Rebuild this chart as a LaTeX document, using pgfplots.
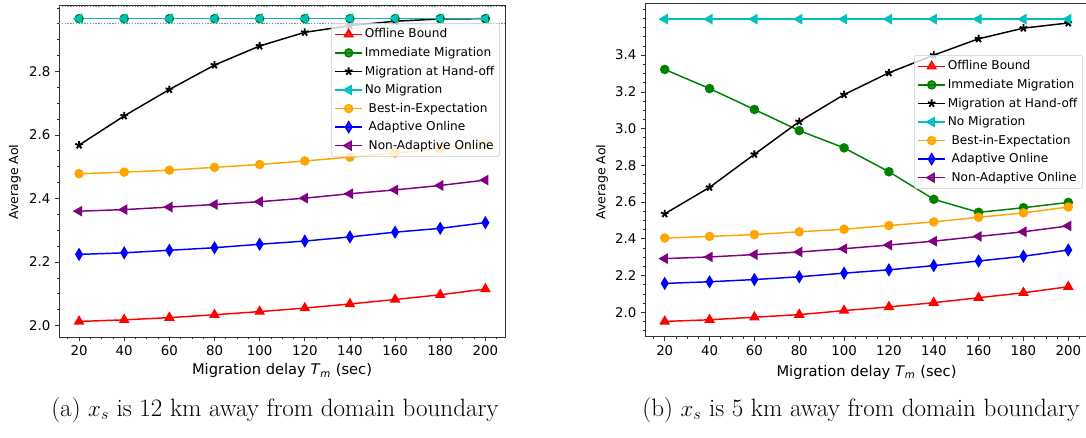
\documentclass[border=0pt]{standalone}
\usepackage{pgfplots}
\pgfplotsset{compat=1.18}
\usepackage{fontspec}
\newfontfamily\dv{DejaVu Sans}
\definecolor{mcyan}{RGB}{0,191,191}
\definecolor{mgreen}{RGB}{0,128,0}
\definecolor{morange}{RGB}{255,165,0}
\definecolor{mpurple}{RGB}{128,0,128}

\pgfplotstableread{
x off imm hand nomig best adap nonad
20  2.013 2.966 2.568 2.966 2.478 2.224 2.360
40  2.018 2.966 2.660 2.966 2.483 2.229 2.365
60  2.025 2.966 2.743 2.966 2.489 2.237 2.373
80  2.034 2.966 2.820 2.966 2.498 2.245 2.381
100 2.044 2.966 2.880 2.966 2.507 2.256 2.390
120 2.055 2.966 2.923 2.966 2.518 2.266 2.401
140 2.068 2.966 2.944 2.966 2.530 2.279 2.415
160 2.082 2.966 2.958 2.966 2.543 2.294 2.427
180 2.097 2.966 2.965 2.966 2.557 2.306 2.441
200 2.115 2.966 2.966 2.966 2.574 2.324 2.458
}\tablea

\pgfplotstableread{
x off imm hand nomig best adap nonad
20  1.950 3.322 2.536 3.596 2.404 2.157 2.292
40  1.959 3.218 2.680 3.596 2.413 2.166 2.301
60  1.973 3.104 2.860 3.596 2.423 2.178 2.314
80  1.987 2.989 3.038 3.596 2.438 2.193 2.328
100 2.009 2.895 3.185 3.596 2.452 2.213 2.346
120 2.029 2.765 3.304 3.596 2.472 2.231 2.366
140 2.052 2.615 3.400 3.596 2.492 2.254 2.387
160 2.079 2.544 3.489 3.596 2.517 2.279 2.413
180 2.106 2.569 3.547 3.596 2.541 2.305 2.438
200 2.139 2.598 3.575 3.596 2.573 2.339 2.470
}\tableb

\pgfplotsset{
  myaxis/.style={
    scale only axis,
    axis line style={black!80, line width=0.7pt},
    tick align=outside,
    xtick pos=bottom, ytick pos=left,
    major tick length=3pt, minor tick length=1.8pt,
    every tick/.style={black!80, line width=0.5pt},
    xtick={20,40,...,200},
    minor xtick={10,15,...,205},
    /pgf/number format/assume math mode=true,
    ticklabel style={font=\dv\fontsize{10}{12}\selectfont},
    yticklabel style={/pgf/number format/.cd, fixed, fixed zerofill, precision=1},
    xlabel={Migration delay \textit{T}\textsubscript{\textit{m}} (sec)},
    xlabel style={font=\dv\fontsize{11}{13}\selectfont, anchor=center},
    ylabel={Average AoI},
    ylabel style={font=\dv\fontsize{9.4}{11}\selectfont, anchor=center},
    legend cell align=left,
    legend style={font=\dv\fontsize{9.1}{11}\selectfont, draw=black!20, fill=white, fill opacity=0.8, text opacity=1,
      rounded corners=2pt, row sep=2.3pt, inner sep=2.5pt, anchor=north east,
      nodes={inner sep=1.6pt}},
    legend image code/.code={\draw[mark repeat=2,mark phase=2] plot coordinates {(0cm,0cm) (0.35cm,0cm) (0.7cm,0cm)};},
    every axis plot/.append style={line width=1.1pt},
  },
  soff/.style={red, mark=triangle*, mark size=3.6pt, mark options={solid}},
  simm/.style={mgreen, mark=*, mark size=3pt},
  shand/.style={black, mark=star, mark size=3pt, mark options={line width=1.4pt}},
  snom/.style={mcyan, mark=triangle*, mark size=3.6pt, mark options={rotate=90}},
  sbest/.style={morange, mark=*, mark size=3pt},
  sadap/.style={blue, mark=diamond*, mark size=4pt, mark options={xscale=0.8}},
  snon/.style={mpurple, mark=triangle*, mark size=3.6pt, mark options={rotate=90}},
}

\begin{document}
\begin{tikzpicture}
\useasboundingbox (0,0) rectangle (814.5pt,-327.75pt);

\begin{axis}[myaxis,
  at={(44.25pt,-252.75pt)}, anchor=south west,
  width=334.5pt, height=249pt,
  xmin=11.1, xmax=208.7, ymin=1.964, ymax=3.009,
  ytick={2.0,2.2,...,2.81},
  minor ytick={1.95,2.0,...,3.01},
  xlabel style={at={(axis description cs:0.5,-0.102)}},
  ylabel style={at={(axis description cs:-0.099,0.467)}},
  legend style={at={(0.9888,0.9458)}},
]
\addplot[densely dotted, black!45, line width=0.4pt, forget plot] coordinates {(11.1,3.004) (208.7,3.004)};
\addplot[densely dotted, black!45, line width=0.4pt, forget plot] coordinates {(11.1,2.951) (208.7,2.951)};
\addplot[soff] table[x=x,y=off]{\tablea};
\addlegendentry{Offline Bound}
\addplot[simm] table[x=x,y=imm]{\tablea};
\addlegendentry{Immediate Migration}
\addplot[shand] table[x=x,y=hand]{\tablea};
\addlegendentry{Migration at Hand-off}
\addplot[snom] table[x=x,y=nomig]{\tablea};
\addlegendentry{No Migration}
\addplot[sbest] table[x=x,y=best]{\tablea};
\addlegendentry{\ Best-in-Expectation}
\addplot[sadap] table[x=x,y=adap]{\tablea};
\addlegendentry{\ Adaptive Online}
\addplot[snon] table[x=x,y=nonad]{\tablea};
\addlegendentry{\ Non-Adaptive Online}
\end{axis}

\begin{axis}[myaxis,
  at={(483.75pt,-252.5pt)}, anchor=south west,
  width=332.25pt, height=250pt,
  xmin=11.2, xmax=208.8, ymin=1.867, ymax=3.682,
  ytick={2.0,2.2,...,3.41},
  minor ytick={1.9,1.95,...,3.68},
  ylabel style={at={(axis description cs:-0.097,0.464)}},
  xlabel style={at={(axis description cs:0.5,-0.106)}},
  legend style={at={(0.9887,0.845)}},
]
\addplot[soff] table[x=x,y=off]{\tableb};
\addlegendentry{Offline Bound}
\addplot[simm] table[x=x,y=imm]{\tableb};
\addlegendentry{Immediate Migration}
\addplot[shand] table[x=x,y=hand]{\tableb};
\addlegendentry{Migration at Hand-off}
\addplot[snom] table[x=x,y=nomig]{\tableb};
\addlegendentry{No Migration}
\addplot[sbest] table[x=x,y=best]{\tableb};
\addlegendentry{\ Best-in-Expectation}
\addplot[sadap] table[x=x,y=adap]{\tableb};
\addlegendentry{\ Adaptive Online}
\addplot[snon] table[x=x,y=nonad]{\tableb};
\addlegendentry{\ Non-Adaptive Online}
\end{axis}

\node[font=\fontsize{18.8}{22}\selectfont, anchor=center] at (206.25pt,-307.5pt) {(a) $x_s$ is 12 km away from domain boundary};
\node[font=\fontsize{18.8}{22}\selectfont, anchor=center] at (645.75pt,-307.5pt) {(b) $x_s$ is 5 km away from domain boundary};
\end{tikzpicture}
\end{document}
